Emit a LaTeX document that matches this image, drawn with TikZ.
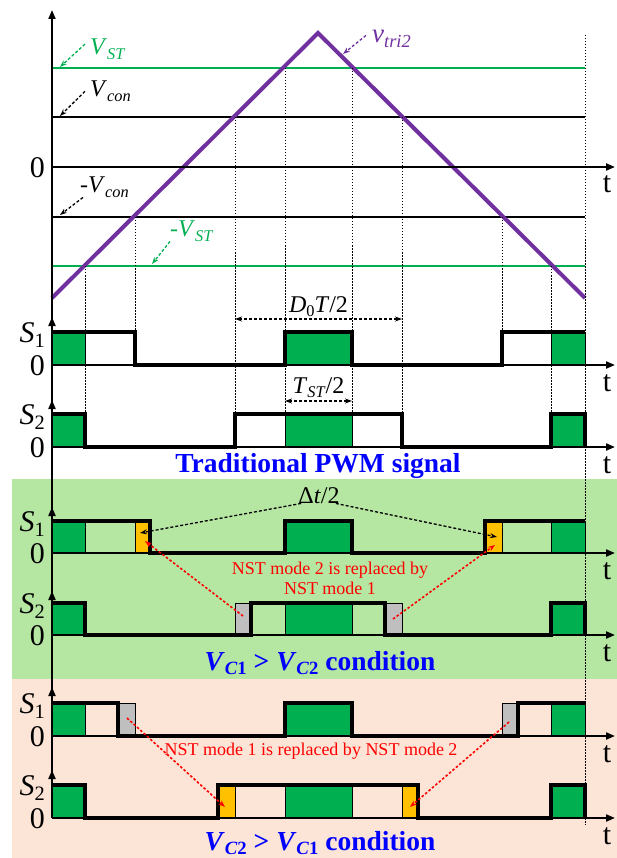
\documentclass[tikz,border=0pt]{standalone}
\usepackage{fontspec}
\setmainfont{Liberation Serif}
\usetikzlibrary{arrows.meta}

\definecolor{stgreen}{RGB}{0,176,80}
\definecolor{tripurple}{RGB}{112,48,160}
\definecolor{condblue}{RGB}{0,0,255}
\definecolor{nstorange}{RGB}{255,192,0}
\definecolor{nstgrey}{RGB}{191,191,191}
\definecolor{panelgreen}{RGB}{181,230,162}
\definecolor{panelpeach}{RGB}{252,228,214}

\makeatletter
\newcommand{\lsub}[1]{\raisebox{-0.17em}{\fontsize{\strip@pt\dimexpr0.68\dimexpr\f@size pt\relax\relax}{0pt}\selectfont #1}}
\makeatother
\newcommand{\vsub}[2]{\textit{#1}\lsub{\textit{#2}}}

\begin{document}
\begin{tikzpicture}[
    x=1pt, y=-1pt,
    >={Stealth[length=7pt,width=5pt]},
    every node/.style={inner sep=0pt},
    axisline/.style={line width=2pt, -{Triangle[length=9pt,width=7pt]}},
    levelline/.style={line width=2.5pt},
    wave/.style={line width=3.5pt, line join=miter},
    guide/.style={line width=0.8pt, dash pattern=on 1.5pt off 1.5pt},
    sigbox/.style={draw, line width=0.8pt},
    lblarrow/.style={line width=1.3pt, dash pattern=on 3pt off 2pt, ->},
    nstarrow/.style={red, line width=1.6pt, dash pattern=on 2.5pt off 2pt, ->},
    siglabel/.style={font=\fontsize{30}{32}\selectfont, anchor=base east},
    tlabel/.style={font=\fontsize{30}{32}\selectfont, anchor=base},
    vlabel/.style={font=\fontsize{24}{26}\selectfont, anchor=base west},
    condtext/.style={font=\fontsize{27.5}{30}\selectfont\bfseries, text=condblue, anchor=base},
    nsttext/.style={font=\fontsize{18}{20}\selectfont, text=red, align=center}
]
\useasboundingbox (0,0) rectangle (617,858);

% background panels
\fill[panelgreen] (12,479) rectangle (617,679);
\fill[panelpeach] (12,679) rectangle (617,858);

% carrier and reference levels
\draw[levelline, stgreen] (52,68) -- (585,68);
\draw[levelline] (52,117) -- (585,117);
\draw[levelline] (52,217) -- (585,217);
\draw[levelline, stgreen] (52,266) -- (585,266);
\draw[line width=4pt, tripurple, line join=miter] (52,298) -- (318,33) -- (585,298);

% projection lines
\foreach \x/\ya/\yb in {85/266/414, 135/217/332, 235/117/414, 285/68/414, 352/68/414,
                        402/117/414, 502/217/332, 551/266/414, 585/35/825}
  \draw[guide] (\x,\ya) -- (\x,\yb);

% switching intervals
\foreach \xa/\xb/\c in {52/85/stgreen, 85/135/none, 285/352/stgreen, 502/551/none, 551/585/stgreen}
  \draw[sigbox, fill=\c] (\xa,332) rectangle (\xb,365);
\foreach \xa/\xb/\c in {52/85/stgreen, 235/285/none, 285/352/stgreen, 352/402/none, 551/585/stgreen}
  \draw[sigbox, fill=\c] (\xa,414) rectangle (\xb,447);
\foreach \xa/\xb/\c in {52/85/stgreen, 85/135/none, 135/150/nstorange, 285/352/stgreen,
                        485/502/nstorange, 502/551/none, 551/585/stgreen}
  \draw[sigbox, fill=\c] (\xa,521) rectangle (\xb,553);
\foreach \xa/\xb/\c in {52/85/stgreen, 235/251/nstgrey, 251/285/none, 285/352/stgreen,
                        352/385/none, 385/402/nstgrey, 551/585/stgreen}
  \draw[sigbox, fill=\c] (\xa,603) rectangle (\xb,635);
\foreach \xa/\xb/\c in {52/85/stgreen, 85/118/none, 118/135/nstgrey, 285/352/stgreen,
                        502/518/nstgrey, 518/551/none, 551/585/stgreen}
  \draw[sigbox, fill=\c] (\xa,703) rectangle (\xb,736);
\foreach \xa/\xb/\c in {52/85/stgreen, 218/235/nstorange, 235/285/none, 285/352/stgreen,
                        352/402/none, 402/418/nstorange, 551/585/stgreen}
  \draw[sigbox, fill=\c] (\xa,785) rectangle (\xb,818);

% axes
\draw[axisline] (52,818) -- (52,10);
\foreach \tip in {317,400,507,591,687,770}
  \draw[axisline] (52,\tip+40) -- (52,\tip);
\foreach \yb in {167,365,447,553,635,736,818} {
  \draw[axisline] (52,\yb) -- (615,\yb);
  \node[tlabel] (t\yb) at (607,\yb+26) {t};
}

% gate signals
\draw[wave] (52,332) -| (135,365) -| (285,332) -| (352,365) -| (502,332) -- (585,332);
\draw[wave] (52,414) -| (85,447) -| (235,414) -| (402,447) -| (551,414) -| (585,447);
\draw[wave] (52,521) -| (150,553) -| (285,521) -| (352,553) -| (485,521) -- (585,521);
\draw[wave] (52,603) -| (85,635) -| (251,603) -| (385,635) -| (551,603) -| (585,635);
\draw[wave] (52,703) -| (118,736) -| (285,703) -| (352,736) -| (518,703) -- (585,703);
\draw[wave] (52,785) -| (85,818) -| (218,785) -| (418,818) -| (551,785) -| (585,818);

% signal names
\node[siglabel] (zero) at (45,178) {0};
\foreach \n/\yh/\yb in {1/332/365, 2/414/447, 1/521/553, 2/603/635, 1/703/736, 2/785/818} {
  \node[siglabel] (s\yb) at (45,\yh+10) {\textit{S}\lsub{\n}};
  \node[siglabel] (z\yb) at (45,\yb+10) {0};
}

% level labels
\node[vlabel, text=stgreen] (vst) at (90,55) {\vsub{V}{ST}};
\node[vlabel] (vcon) at (90,97) {\vsub{V}{con}};
\node[vlabel] (nvcon) at (80,193) {-\vsub{V}{con}};
\node[vlabel, text=stgreen] (nvst) at (170,237) {-\vsub{V}{ST}};
\node[vlabel, text=tripurple, font=\fontsize{27}{29}\selectfont] (vtri) at (372,43) {\vsub{v}{tri2}};
\coordinate (vstend) at (60,67);
\coordinate (vconend) at (60,116);
\coordinate (nvconend) at (60,215);
\coordinate (nvstend) at (152,264);
\coordinate (vtriend) at (343,54);
\draw[lblarrow, stgreen] ([xshift=-5pt,yshift=-5pt]vst.north west) -- (vstend);
\draw[lblarrow] ([xshift=-5pt]vcon.west) -- (vconend);
\draw[lblarrow] ([xshift=3pt]nvcon.south west) -- (nvconend);
\draw[lblarrow, stgreen] (nvst.south west) -- (nvstend);
\draw[lblarrow, tripurple] ([xshift=-6pt,yshift=-5pt]vtri.north west) -- (vtriend);

% interval widths
\coordinate (d0l) at (235,319);
\coordinate (d0r) at (402,319);
\coordinate (tstl) at (285,401);
\coordinate (tstr) at (352,401);
\draw[lblarrow, <->] (d0l) -- node[above=2pt, vlabel, anchor=south] (d0) {\textit{D}\lsub{0}\textit{T}/2} (d0r);
\draw[lblarrow, <->] (tstl) -- node[above=3pt, vlabel, anchor=south] (tst) {\vsub{T}{ST}/2} (tstr);

\node[condtext] (trad) at (318,472) {Traditional PWM signal};

% V_C1 > V_C2
\node[vlabel, anchor=base] (dt) at (319,503) {Δ\textit{t}/2};
\coordinate (dtl) at (140,533);
\coordinate (dtr) at (497,537);
\draw[lblarrow] ([xshift=3pt]dt.south west) -- (dtl);
\draw[lblarrow] ([xshift=-4pt]dt.south east) -- (dtr);
\node[nsttext] (nst21) at (330,578) {NST mode 2 is replaced by\\NST mode 1};
\coordinate (g1a) at (243,616);
\coordinate (g1b) at (145,541);
\coordinate (g2a) at (393,619);
\coordinate (g2b) at (495,545);
\draw[nstarrow] (g1a) -- (g1b);
\draw[nstarrow] (g2a) -- (g2b);
\node[condtext] (cond1) at (320,670) {\textit{V}\lsub{\textit{C}1} > \textit{V}\lsub{\textit{C}2} condition};

% V_C2 > V_C1
\node[nsttext, anchor=base] (nst12) at (311,755) {NST mode 1 is replaced by NST mode 2};
\coordinate (p1a) at (127,718);
\coordinate (p1b) at (225,807);
\coordinate (p2a) at (509,722);
\coordinate (p2b) at (410,807);
\draw[nstarrow] (p1a) -- (p1b);
\draw[nstarrow] (p2a) -- (p2b);
\node[condtext] (cond2) at (320,850) {\textit{V}\lsub{\textit{C}2} > \textit{V}\lsub{\textit{C}1} condition};
\end{tikzpicture}
\end{document}
